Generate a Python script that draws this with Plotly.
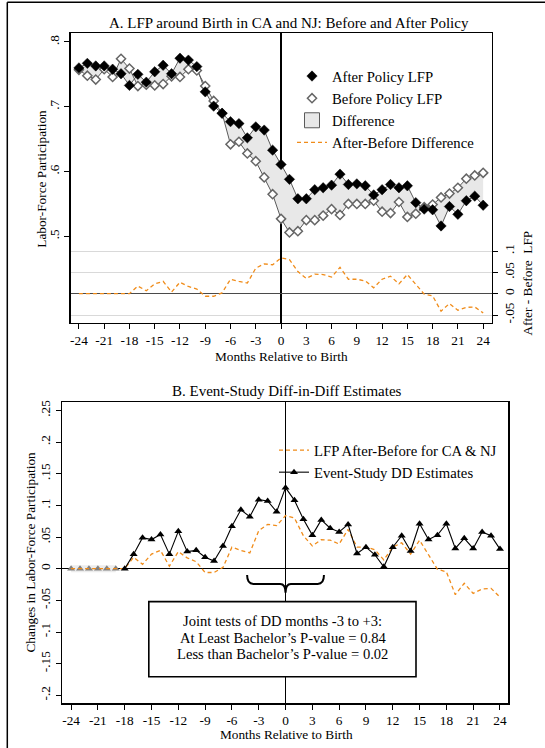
import plotly.graph_objects as go

# ---------------- data ----------------
months = list(range(-24, 25))

after_lfp = [0.760, 0.767, 0.763, 0.763, 0.758, 0.751, 0.733, 0.750, 0.738, 0.754,
             0.764, 0.751, 0.775, 0.772, 0.762, 0.723, 0.701, 0.690, 0.677, 0.674,
             0.652, 0.669, 0.664, 0.633, 0.611,
             0.588, 0.558, 0.558, 0.572, 0.575, 0.579, 0.596, 0.580, 0.581, 0.578,
             0.564, 0.572, 0.580, 0.575, 0.578, 0.552, 0.542, 0.541, 0.516, 0.546,
             0.534, 0.555, 0.562, 0.548]

before_lfp = [0.757, 0.748, 0.742, 0.758, 0.746, 0.774, 0.759, 0.732, 0.734, 0.733,
              0.735, 0.747, 0.746, 0.758, 0.756, 0.732, 0.709, 0.690, 0.642, 0.646,
              0.628, 0.616, 0.591, 0.565, 0.527,
              0.506, 0.508, 0.525, 0.525, 0.532, 0.542, 0.533, 0.550, 0.550, 0.550,
              0.555, 0.538, 0.536, 0.553, 0.530, 0.535, 0.545, 0.549, 0.560, 0.566,
              0.575, 0.589, 0.594, 0.598]

after_minus_before = [0.0, 0.0, 0.0, 0.0, 0.0, 0.0, 0.0, 0.018, 0.007, 0.023,
                      0.029, 0.004, 0.027, 0.017, 0.011, -0.006, -0.006, 0.002, 0.034, 0.029,
                      0.025, 0.060, 0.070, 0.068, 0.084,
                      0.080, 0.052, 0.036, 0.046, 0.045, 0.039, 0.062, 0.034, 0.034, 0.030,
                      0.014, 0.034, 0.041, 0.023, 0.045, 0.021, -0.001, -0.005, -0.041, -0.023,
                      -0.039, -0.032, -0.031, -0.045]

dd_estimates = [0.0, 0.0, 0.0, 0.0, 0.0, 0.0, 0.0, 0.023, 0.049, 0.046,
                0.054, 0.023, 0.059, 0.027, 0.029, 0.018, 0.012, 0.036, 0.067, 0.093,
                0.082, 0.109, 0.107, 0.090, 0.128,
                0.108, 0.078, 0.053, 0.077, 0.064, 0.058, 0.070, 0.024, 0.034, 0.022,
                0.003, 0.034, 0.052, 0.028, 0.071, 0.046, 0.053, 0.071, 0.032, 0.048,
                0.032, 0.058, 0.052, 0.031]

n_ref = 6  # omitted reference months (-24..-19), drawn in gray

x_ticks = list(range(-24, 25, 3))
x_labels = [str(v) for v in x_ticks]  # plain ASCII hyphen for negatives
a_left_ticks = [0.5, 0.6, 0.7, 0.8]
a_left_labels = [".5", ".6", ".7", ".8"]
a_right_ticks = [-0.05, 0.0, 0.05, 0.1]
a_right_labels = ["-.05", "0", ".05", ".1"]
b_ticks = [-0.2, -0.15, -0.1, -0.05, 0.0, 0.05, 0.1, 0.15, 0.2, 0.25]
b_labels = ["-.2", "-.15", "-.1", "-.05", "0", ".05", ".1", ".15", ".2", ".25"]

box_lines = ["Joint tests of DD months -3 to +3:",
             "At Least Bachelor\u2019s P-value = 0.84",
             "Less than Bachelor\u2019s P-value = 0.02"]

# ---------------- style ----------------
FONT = "Liberation Serif"
W, H = 545, 748
GRAYLINE = "#5a5a5a"
FILL = "#e8e8e8"
ORANGE = "#f08c1a"
DASH = "4px,3px"
TICK_SIZE = 13.3
LEG_SIZE = 14.7


def px(x):
    return x / W


def py(y):
    return 1 - y / H


fig = go.Figure()

# Panel A: connecting lines and difference band
fig.add_trace(go.Scatter(x=months, y=before_lfp, mode="lines",
                         line=dict(color=GRAYLINE, width=1), showlegend=False,
                         hoverinfo="skip", xaxis="x", yaxis="y"))
fig.add_trace(go.Scatter(x=months, y=after_lfp, mode="lines", fill="tonexty",
                         fillcolor=FILL, line=dict(color=GRAYLINE, width=1),
                         showlegend=False, hoverinfo="skip", xaxis="x", yaxis="y"))
fig.add_trace(go.Scatter(x=months, y=before_lfp, mode="markers", name="Before Policy LFP",
                         marker=dict(symbol="diamond", size=7, color="white",
                                     line=dict(color="#666666", width=1.5)),
                         legend="legend", legendrank=2, xaxis="x", yaxis="y"))
fig.add_trace(go.Scatter(x=months, y=after_lfp, mode="markers", name="After Policy LFP",
                         marker=dict(symbol="diamond", size=8, color="black",
                                     line=dict(color="black", width=0.5)),
                         legend="legend", legendrank=1, xaxis="x", yaxis="y"))
fig.add_trace(go.Scatter(x=[None], y=[None], mode="markers", name="Difference",
                         marker=dict(symbol="square", size=15, color=FILL,
                                     line=dict(color=GRAYLINE, width=1)),
                         legend="legend", legendrank=3, xaxis="x", yaxis="y"))
fig.add_trace(go.Scatter(x=months, y=after_minus_before, mode="lines",
                         name="After-Before Difference",
                         line=dict(color=ORANGE, width=1.3, dash=DASH),
                         legend="legend", legendrank=4, xaxis="x", yaxis="y2"))

# Panel B
fig.add_trace(go.Scatter(x=months[:n_ref], y=dd_estimates[:n_ref], mode="lines",
                         line=dict(color="#ececec", width=7), showlegend=False,
                         hoverinfo="skip", xaxis="x2", yaxis="y3"))
fig.add_trace(go.Scatter(x=months[:n_ref], y=dd_estimates[:n_ref], mode="markers",
                         marker=dict(symbol="triangle-up", size=7, color="#808080"),
                         showlegend=False, xaxis="x2", yaxis="y3"))
fig.add_trace(go.Scatter(x=months, y=after_minus_before, mode="lines",
                         name="LFP After-Before for CA & NJ",
                         line=dict(color=ORANGE, width=1.3, dash=DASH),
                         legend="legend2", legendrank=1, xaxis="x2", yaxis="y3"))
fig.add_trace(go.Scatter(x=months[n_ref:], y=dd_estimates[n_ref:], mode="lines+markers",
                         name="Event-Study DD Estimates",
                         line=dict(color="black", width=1.1),
                         marker=dict(symbol="triangle-up", size=7, color="black"),
                         legend="legend2", legendrank=2, xaxis="x2", yaxis="y3"))

axis_common = dict(showgrid=False, ticks="outside", ticklen=5, tickwidth=1,
                   tickcolor="black", showline=True, linecolor="black", linewidth=1.2,
                   mirror=True, automargin=False,
                   tickfont=dict(family=FONT, size=TICK_SIZE, color="black"))

fig.update_layout(
    template="none",
    width=W, height=H,
    margin=dict(l=0, r=0, t=0, b=0, pad=0),
    paper_bgcolor="white", plot_bgcolor="white",
    font=dict(family=FONT, color="black"),
    xaxis=dict(domain=[px(70.5), px(492)], anchor="y", range=[-25, 25.05],
               tickvals=x_ticks, ticktext=x_labels,
               zeroline=True, zerolinecolor="black", zerolinewidth=1.2,
               **axis_common),
    yaxis=dict(domain=[py(322.7), py(33.3)], anchor="x", range=[0.3667, 0.8134],
               tickvals=a_left_ticks, ticktext=a_left_labels, tickangle=-90,
               zeroline=False, **axis_common),
    yaxis2=dict(overlaying="y", side="right", anchor="x", range=[-0.068, 0.611],
                tickvals=a_right_ticks, ticktext=a_right_labels, tickangle=-90,
                ticks="outside", ticklen=5, tickwidth=1, tickcolor="black",
                showgrid=True, gridcolor="#d9d9d9", gridwidth=1,
                zeroline=True, zerolinecolor="#4a4a4a", zerolinewidth=1.2,
                showline=False, automargin=False,
                tickfont=dict(family=FONT, size=TICK_SIZE, color="black")),
    xaxis2=dict(domain=[px(61.7), px(508.3)], anchor="y3", range=[-25.05, 24.93],
                tickvals=x_ticks, ticktext=x_labels,
                zeroline=True, zerolinecolor="black", zerolinewidth=1.2,
                **axis_common),
    yaxis3=dict(domain=[py(703.3), py(402)], anchor="x2", range=[-0.2126, 0.2633],
                tickvals=b_ticks, ticktext=b_labels, tickangle=-90,
                zeroline=True, zerolinecolor="black", zerolinewidth=1.2, **axis_common),
    legend=dict(x=px(292), y=py(60), xanchor="left", yanchor="top",
                bgcolor="rgba(0,0,0,0)", font=dict(family=FONT, size=LEG_SIZE),
                tracegroupgap=0, itemsizing="trace", traceorder="normal"),
    legend2=dict(x=px(274), y=py(434), xanchor="left", yanchor="top",
                 bgcolor="rgba(0,0,0,0)", font=dict(family=FONT, size=LEG_SIZE),
                 tracegroupgap=0, traceorder="normal"),
)

annotations = [
    dict(text="A. LFP around Birth in CA and NJ: Before and After Policy",
         x=px(289), y=py(23.3), size=15),
    dict(text="B. Event-Study Diff-in-Diff Estimates", x=px(287), y=py(391), size=15),
    dict(text="Months Relative to Birth", x=px(281), y=py(356.7), size=13.3),
    dict(text="Months Relative to Birth", x=px(286.4), y=py(734.3), size=13.3),
    dict(text="Labor-Force Participation", x=px(41.7), y=py(179), size=13.3, angle=-90),
    dict(text="After - Before  LFP", x=px(526.6), y=py(283), size=13.3, angle=-90),
    dict(text="Changes in Labor-Force Participation", x=px(29.5), y=py(552), size=13.3,
         angle=-90),
]
for i, line in enumerate(box_lines):
    annotations.append(dict(text=line, x=px(282.5), y=py(620.7 + 16.8 * i), size=14.6))

fig.update_layout(annotations=[
    dict(text=a["text"], x=a["x"], y=a["y"], xref="paper", yref="paper",
         xanchor="center", yanchor="middle", showarrow=False,
         textangle=a.get("angle", 0),
         font=dict(family=FONT, size=a["size"], color="black"))
    for a in annotations
])

shapes = [
    # outer frame (top and left edges)
    dict(type="line", xref="paper", yref="paper", x0=px(7.3), x1=1.0, y0=py(2.3), y1=py(2.3),
         line=dict(color="black", width=1.5)),
    dict(type="line", xref="paper", yref="paper", x0=px(7.3), x1=px(7.3), y0=py(2.3), y1=0,
         line=dict(color="black", width=1.5)),
    # text box in panel B
    dict(type="rect", xref="x2", yref="y3", x0=-15.3, x1=14.6, y0=-0.1706, y1=-0.052,
         fillcolor="white", line=dict(color="black", width=1.6), layer="above"),
    # curly brace for months -3 to +3
    dict(type="path", xref="x2", yref="y3",
         path="M -4.3,-0.010 Q -4.3,-0.024 -3.6,-0.024 L -0.6,-0.024 "
              "Q 0,-0.024 0,-0.038 Q 0,-0.024 0.6,-0.024 L 3.6,-0.024 "
              "Q 4.3,-0.024 4.3,-0.010",
         line=dict(color="black", width=2)),
]
fig.update_layout(shapes=shapes)

fig.write_html("out.html",
               config={"displayModeBar": False, "staticPlot": True},
               post_script="document.body.style.margin='0';"
                           "document.body.style.overflow='hidden';")
